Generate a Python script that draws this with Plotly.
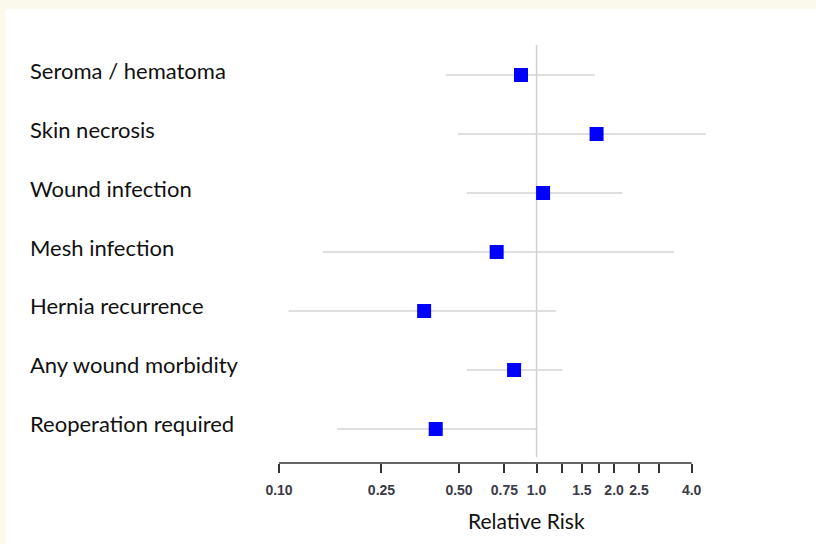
import plotly.graph_objects as go

# ---- data ----
outcomes = ["Seroma / hematoma", "Skin necrosis", "Wound infection", "Mesh infection",
            "Hernia recurrence", "Any wound morbidity", "Reoperation required"]
rr = [0.87, 1.71, 1.06, 0.70, 0.366, 0.818, 0.406]
ci_low = [0.444, 0.495, 0.536, 0.148, 0.109, 0.536, 0.168]
ci_high = [1.685, 4.53, 2.15, 3.42, 1.19, 1.26, 1.01]
tick_vals = [0.10, 0.25, 0.50, 0.75, 1.0, 1.25, 1.5, 1.75, 2.0, 2.5, 3.0, 4.0]
tick_text = ["0.10", "0.25", "0.50", "0.75", "1.0", "", "1.5", "", "2.0", "2.5", "", "4.0"]
x_title = "Relative Risk"
ref_value = 1.0

n = len(outcomes)
ypos = list(range(n, 0, -1))

# layout geometry (pixels)
W, H = 816, 544
L, R_px = 279.3, 760.0
T, B_px = 40.0, 462.7
pw, ph = R_px - L, B_px - T

fig = go.Figure()
fig.add_trace(go.Scatter(
    x=rr, y=ypos, mode="markers",
    marker=dict(symbol="square", size=14, color="#0000FF", line=dict(width=0)),
    error_x=dict(type="data", symmetric=False,
                 array=[h - e for h, e in zip(ci_high, rr)],
                 arrayminus=[e - l for e, l in zip(rr, ci_low)],
                 color="#D4D4D4", thickness=1.5, width=0),
    showlegend=False, hoverinfo="skip"))

cream = "#FBF9EC"
shapes = [
    # white panel
    dict(type="rect", xref="paper", yref="paper",
         x0=(6 - L) / pw, x1=(W + 20 - L) / pw,
         y0=(B_px - (H + 20)) / ph, y1=(B_px - 9) / ph,
         fillcolor="white", line=dict(width=0), layer="below"),
    # reference line at 1.0
    dict(type="line", xref="x", yref="y", x0=ref_value, x1=ref_value,
         y0=0.52, y1=7.51, line=dict(color="#D0D0D0", width=1.5), layer="below"),
    # axis line from 0.10 to 4.0
    dict(type="line", xref="x", yref="paper", x0=tick_vals[0], x1=tick_vals[-1],
         y0=0, y1=0, line=dict(color="#333333", width=1.5)),
]

annotations = []
for name, y in zip(outcomes, ypos):
    annotations.append(dict(text=name, xref="paper", yref="y", x=(28 - L) / pw, y=y,
                            xanchor="left", yanchor="middle", yshift=5, showarrow=False,
                            font=dict(family="Lato", size=22, color="#111111")))
annotations.append(dict(text=x_title, xref="paper", yref="paper", x=(527 - L) / pw, y=0,
                        xanchor="center", yanchor="middle", yshift=-(520 - B_px), showarrow=False,
                        font=dict(family="Lato", size=21, color="#111111")))

fig.update_layout(
    width=W, height=H,
    margin=dict(l=L, r=W - R_px, t=T, b=H - B_px, pad=0),
    paper_bgcolor=cream, plot_bgcolor="rgba(0,0,0,0)",
    shapes=shapes, annotations=annotations,
    xaxis=dict(type="log", range=[-1, (R_px - 536.7) / 257.4],
               tickvals=tick_vals, ticktext=tick_text, ticks="outside", ticklen=9,
               tickwidth=1.5, tickcolor="#333333", showline=False, showgrid=False,
               zeroline=False, ticklabelstandoff=5,
               tickfont=dict(family="Liberation Sans", size=14, weight="bold", color="#3a3a48")),
    yaxis=dict(range=[1 - (B_px - 428.7) / 58.95, 7 + (75 - T) / 58.95],
               showticklabels=False, showgrid=False, zeroline=False, showline=False, ticks=""),
)

fig.write_html("out.html")
